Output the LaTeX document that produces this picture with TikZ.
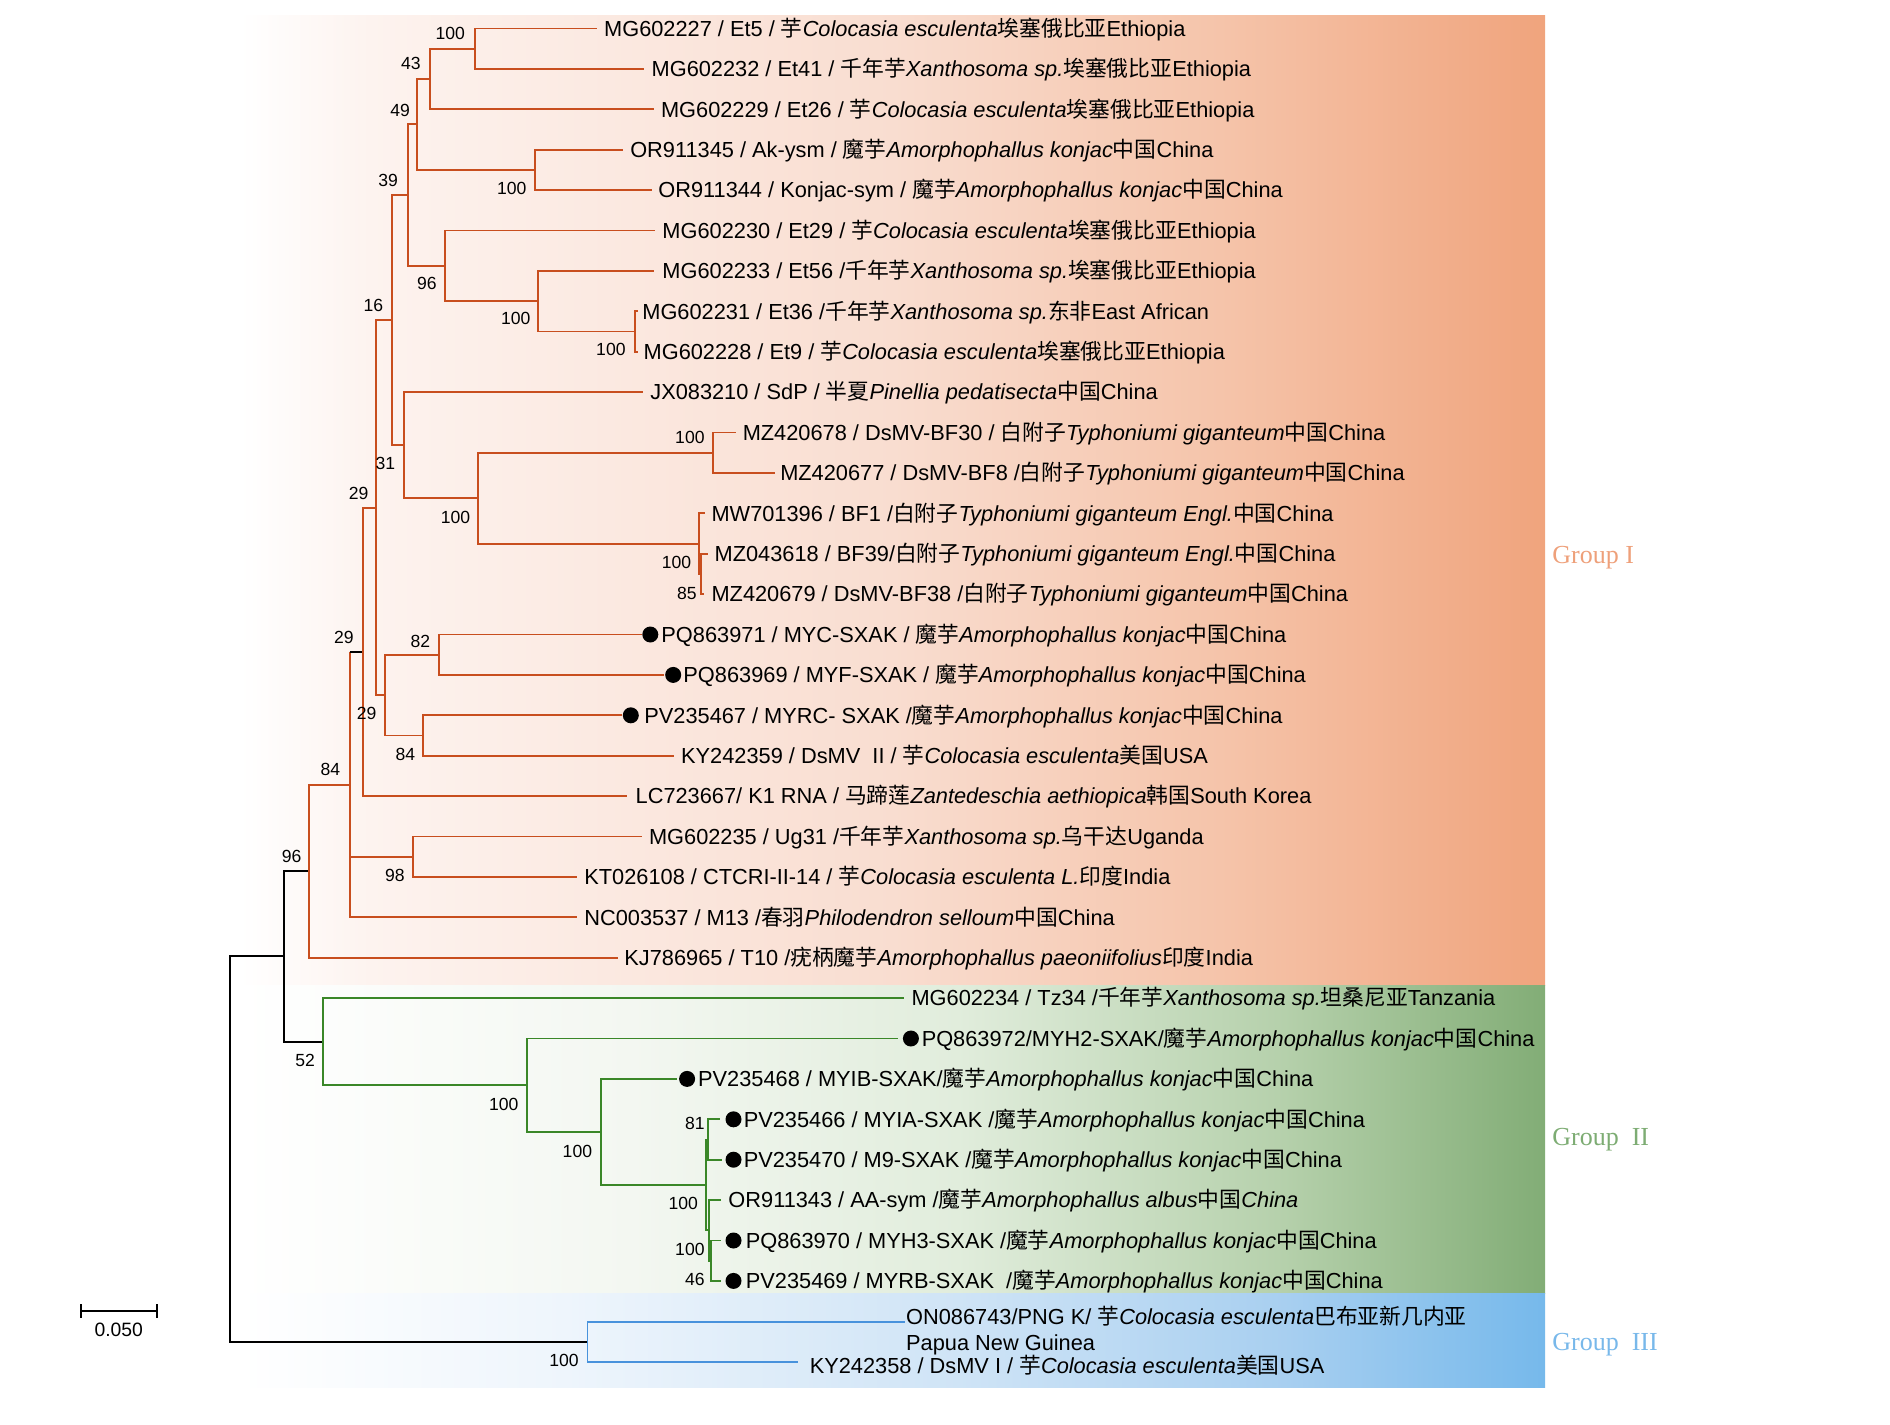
\documentclass[tikz,border=0pt]{standalone}
\usepackage{fontspec}
\setmainfont{Liberation Sans}
\newfontfamily\labf{Liberation Sans}
\newfontfamily\zhf{Noto Sans CJK SC}
\newfontfamily\grpf{Liberation Serif}
\newcommand{\zh}[1]{{\zhf #1}}
\definecolor{cI}{RGB}{200,78,30}
\definecolor{cII}{RGB}{58,135,40}
\definecolor{cIII}{RGB}{72,146,220}
\definecolor{gI}{RGB}{238,160,122}
\definecolor{gII}{RGB}{125,172,115}
\definecolor{gIII}{RGB}{120,184,234}
% path bbox maps onto 25bp..75bp of the shading
\pgfdeclarehorizontalshading{bandI}{100bp}{rgb(0bp)=(1,1,1); rgb(25bp)=(1,1,1); rgb(30bp)=(0.992,0.953,0.937); rgb(50bp)=(0.976,0.867,0.816); rgb(62.5bp)=(0.961,0.769,0.667); rgb(75bp)=(0.941,0.643,0.490); rgb(100bp)=(0.941,0.643,0.490)}
\pgfdeclarehorizontalshading{bandII}{100bp}{rgb(0bp)=(1,1,1); rgb(25bp)=(1,1,1); rgb(40bp)=(0.953,0.969,0.945); rgb(52.5bp)=(0.882,0.929,0.863); rgb(65bp)=(0.710,0.816,0.671); rgb(75bp)=(0.510,0.678,0.463); rgb(100bp)=(0.510,0.678,0.463)}
\pgfdeclarehorizontalshading{bandIII}{100bp}{rgb(0bp)=(1,1,1); rgb(25bp)=(1,1,1); rgb(37.5bp)=(0.933,0.961,0.988); rgb(52.5bp)=(0.812,0.894,0.965); rgb(65bp)=(0.659,0.812,0.941); rgb(75bp)=(0.463,0.725,0.922); rgb(100bp)=(0.463,0.725,0.922)}
\begin{document}
\begin{tikzpicture}[x=0.02cm,y=-0.02cm,
  brO/.style={draw=cI,line width=1.1pt},
  brG/.style={draw=cII,line width=1.1pt},
  brB/.style={draw=cIII,line width=1.1pt},
  brK/.style={draw=black,line width=1.2pt},
  lab/.style={anchor=base west,inner sep=0pt,font=\labf\fontsize{12.4}{14}\selectfont},
  bs/.style={anchor=east,inner sep=0pt,font=\labf\fontsize{10}{12}\selectfont},
  dot/.style={circle,fill=black,inner sep=0pt,minimum size=0.32cm},
  grp/.style={anchor=base west,inner sep=0pt,font=\grpf\fontsize{14.8}{16}\selectfont}]
\useasboundingbox (0,0) rectangle (1890,1424);
% bands
\shade[shading=bandI] (240,15) rectangle (1545,985);
\shade[shading=bandII] (240,985) rectangle (1545,1293);
\shade[shading=bandIII] (240,1293) rectangle (1545,1387);
% internal nodes
\coordinate (R0) at (230.4,1149.35);
\coordinate (W) at (284.0,956.4);
\coordinate (T) at (309.4,871.15);
\coordinate (S) at (349.6,784.6);
\coordinate (Q) at (363.0,651.85);
\coordinate (O) at (376.4,507.6);
\coordinate (I) at (391.9,320.1);
\coordinate (E) at (407.6,195.15);
\coordinate (C) at (417.4,124.45);
\coordinate (B) at (430.0,79.0);
\coordinate (A) at (474.6,48.7);
\coordinate (D) at (534.8,169.9);
\coordinate (F) at (444.7,265.85);
\coordinate (G) at (538.4,301.2);
\coordinate (H) at (635.3,331.5);
\coordinate (J) at (404.0,445.1);
\coordinate (K) at (478.2,498.15);
\coordinate (L) at (712.6,452.7);
\coordinate (M) at (699.2,543.6);
\coordinate (N) at (700.9,573.9);
\coordinate (P) at (385.2,695.1);
\coordinate (U) at (438.8,654.7);
\coordinate (V) at (423.3,735.5);
\coordinate (Rr) at (413.4,856.7);
\coordinate (X) at (322.8,1041.65);
\coordinate (Y) at (527.2,1085.2);
\coordinate (Z) at (600.9,1131.9);
\coordinate (AA) at (705.9,1184.95);
\coordinate (AB) at (708.0,1139.5);
\coordinate (AC) at (708.9,1230.4);
\coordinate (AD) at (711.2,1260.7);
\coordinate (BB) at (587.5,1342.3);
% leaf tips
\coordinate (t0) at (597.4,28.5);
\coordinate (t1) at (644.2,68.9);
\coordinate (t2) at (654.0,109.3);
\coordinate (t3) at (623.2,149.7);
\coordinate (t4) at (651.7,190.1);
\coordinate (t5) at (655.4,230.5);
\coordinate (t6) at (654.4,270.9);
\coordinate (t7) at (637.9,311.3);
\coordinate (t8) at (637.9,351.7);
\coordinate (t9) at (643.3,392.1);
\coordinate (t10) at (735.7,432.5);
\coordinate (t11) at (774.6,472.9);
\coordinate (t12) at (704.5,513.3);
\coordinate (t13) at (707.6,553.7);
\coordinate (t14) at (703.6,594.1);
\coordinate (t15) at (642.0,634.5);
\coordinate (t16) at (664.3,674.9);
\coordinate (t17) at (621.9,715.3);
\coordinate (t18) at (674.1,755.7);
\coordinate (t19) at (627.2,796.1);
\coordinate (t20) at (642.0,836.5);
\coordinate (t21) at (577.3,876.9);
\coordinate (t22) at (577.3,917.3);
\coordinate (t23) at (617.5,957.7);
\coordinate (t24) at (903.6,998.1);
\coordinate (t25) at (898.2,1038.5);
\coordinate (t26) at (676.8,1078.9);
\coordinate (t27) at (720.1,1119.3);
\coordinate (t28) at (722.3,1159.7);
\coordinate (t29) at (721.4,1200.1);
\coordinate (t30) at (721.4,1240.5);
\coordinate (t31) at (721.4,1280.9);
\coordinate (t32) at (904.9,1322.3);
\coordinate (t33) at (798.3,1362.3);
% branches: black
\draw[brK] (R0) |- (W);
\draw[brK] (R0) |- (BB);
\draw[brK] (W) |- (T);
\draw[brK] (W) |- (X);
% group I
\draw[brO] (T) |- (S);
\draw[brO] (T) |- (t23);
\draw[brO] (S) -- (S|-Q);
\draw[brK] (S|-Q) -- (Q);
\draw[brO] (S) |- (Rr);
\draw[brO] (S) |- (t22);
\draw[brO] (Q) |- (O);
\draw[brO] (Q) |- (t19);
\draw[brO] (O) |- (I);
\draw[brO] (O) |- (P);
\draw[brO] (I) |- (E);
\draw[brO] (I) |- (J);
\draw[brO] (E) |- (C);
\draw[brO] (E) |- (F);
\draw[brO] (C) |- (B);
\draw[brO] (C) |- (D);
\draw[brO] (B) |- (A);
\draw[brO] (B) |- (t2);
\draw[brO] (A) |- (t0);
\draw[brO] (A) |- (t1);
\draw[brO] (D) |- (t3);
\draw[brO] (D) |- (t4);
\draw[brO] (F) |- (t5);
\draw[brO] (F) |- (G);
\draw[brO] (G) |- (t6);
\draw[brO] (G) |- (H);
\draw[brO] (H) |- (t7);
\draw[brO] (H) |- (t8);
\draw[brO] (J) |- (t9);
\draw[brO] (J) |- (K);
\draw[brO] (K) |- (L);
\draw[brO] (K) |- (M);
\draw[brO] (L) |- (t10);
\draw[brO] (L) |- (t11);
\draw[brO] (M) |- (t12);
\draw[brO] (M) |- (N);
\draw[brO] (N) |- (t13);
\draw[brO] (N) |- (t14);
\draw[brO] (P) |- (U);
\draw[brO] (P) |- (V);
\draw[brO] (U) |- (t15);
\draw[brO] (U) |- (t16);
\draw[brO] (V) |- (t17);
\draw[brO] (V) |- (t18);
\draw[brO] (Rr) |- (t20);
\draw[brO] (Rr) |- (t21);
% group II
\draw[brG] (X) |- (t24);
\draw[brG] (X) |- (Y);
\draw[brG] (Y) |- (t25);
\draw[brG] (Y) |- (Z);
\draw[brG] (Z) |- (t26);
\draw[brG] (Z) |- (AA);
\draw[brG] (AA) |- (AB);
\draw[brG] (AA) |- (AC);
\draw[brG] (AB) |- (t27);
\draw[brG] (AB) |- (t28);
\draw[brG] (AC) |- (t29);
\draw[brG] (AC) |- (AD);
\draw[brG] (AD) |- (t30);
\draw[brG] (AD) |- (t31);
% group III
\draw[brB] (BB) |- (t32);
\draw[brB] (BB) |- (t33);
% dots
\node[dot] (d15) at (650.3,634.5) {};
\node[dot] (d16) at (673.2,674.9) {};
\node[dot] (d17) at (630.8,715.3) {};
\node[dot] (d25) at (910.9,1038.5) {};
\node[dot] (d26) at (687.1,1078.9) {};
\node[dot] (d27) at (733.5,1119.3) {};
\node[dot] (d28) at (733.5,1159.7) {};
\node[dot] (d30) at (733.5,1240.5) {};
\node[dot] (d31) at (733.5,1280.9) {};
% leaf labels
\node[lab] (l0) at (603.8,36.3) {MG602227 / Et5 / \zh{芋}\textit{Colocasia esculenta}\zh{埃塞俄比亚}Ethiopia};
\node[lab] (l1) at (651.3,76.7) {MG602232 / Et41 / \zh{千年芋}\textit{Xanthosoma sp.}\zh{埃塞俄比亚}Ethiopia};
\node[lab] (l2) at (660.7,117.1) {MG602229 / Et26 / \zh{芋}\textit{Colocasia esculenta}\zh{埃塞俄比亚}Ethiopia};
\node[lab] (l3) at (629.9,157.5) {OR911345 / Ak-ysm / \zh{魔芋}\textit{Amorphophallus konjac}\zh{中国}China};
\node[lab] (l4) at (658.0,197.9) {OR911344 / Konjac-sym / \zh{魔芋}\textit{Amorphophallus konjac}\zh{中国}China};
\node[lab] (l5) at (662.1,238.3) {MG602230 / Et29 / \zh{芋}\textit{Colocasia esculenta}\zh{埃塞俄比亚}Ethiopia};
\node[lab] (l6) at (662.1,278.7) {MG602233 / Et56 /\zh{千年芋}\textit{Xanthosoma sp.}\zh{埃塞俄比亚}Ethiopia};
\node[lab] (l7) at (642.0,319.1) {MG602231 / Et36 /\zh{千年芋}\textit{Xanthosoma sp.}\zh{东非}East African};
\node[lab] (l8) at (643.3,359.5) {MG602228 / Et9 / \zh{芋}\textit{Colocasia esculenta}\zh{埃塞俄比亚}Ethiopia};
\node[lab] (l9) at (650.0,399.9) {JX083210 / SdP / \zh{半夏}\textit{Pinellia pedatisecta}\zh{中国}China};
\node[lab] (l10) at (742.4,440.3) {MZ420678 / DsMV-BF30 / \zh{白附子}\textit{Typhoniumi giganteum}\zh{中国}China};
\node[lab] (l11) at (779.9,480.7) {MZ420677 / DsMV-BF8 /\zh{白附子}\textit{Typhoniumi giganteum}\zh{中国}China};
\node[lab] (l12) at (711.2,521.1) {MW701396 / BF1 /\zh{白附子}\textit{Typhoniumi giganteum Engl.}\zh{中国}China};
\node[lab] (l13) at (714.3,561.5) {MZ043618 / BF39/\zh{白附子}\textit{Typhoniumi giganteum Engl.}\zh{中国}China};
\node[lab] (l14) at (711.2,601.9) {MZ420679 / DsMV-BF38 /\zh{白附子}\textit{Typhoniumi giganteum}\zh{中国}China};
\node[lab] (l15) at (661.1,642.3) {PQ863971 / MYC-SXAK / \zh{魔芋}\textit{Amorphophallus konjac}\zh{中国}China};
\node[lab] (l16) at (683.1,682.7) {PQ863969 / MYF-SXAK / \zh{魔芋}\textit{Amorphophallus konjac}\zh{中国}China};
\node[lab] (l17) at (644.0,723.1) {PV235467 / MYRC- SXAK /\zh{魔芋}\textit{Amorphophallus konjac}\zh{中国}China};
\node[lab] (l18) at (680.8,763.5) {KY242359 / DsMV\ \ II / \zh{芋}\textit{Colocasia esculenta}\zh{美国}USA};
\node[lab] (l19) at (635.3,803.9) {LC723667/ K1 RNA / \zh{马蹄莲}\textit{Zantedeschia aethiopica}\zh{韩国}South Korea};
\node[lab] (l20) at (648.7,844.3) {MG602235 / Ug31 /\zh{千年芋}\textit{Xanthosoma sp.}\zh{乌干达}Uganda};
\node[lab] (l21) at (584.0,884.7) {KT026108 / CTCRI-II-14 / \zh{芋}\textit{Colocasia esculenta L.}\zh{印度}India};
\node[lab] (l22) at (584.0,925.1) {NC003537 / M13 /\zh{春羽}\textit{Philodendron selloum}\zh{中国}China};
\node[lab] (l23) at (624.1,965.5) {KJ786965 / T10 /\zh{疣柄魔芋}\textit{Amorphophallus paeoniifolius}\zh{印度}India};
\node[lab] (l24) at (911.2,1005.9) {MG602234 / Tz34 /\zh{千年芋}\textit{Xanthosoma sp.}\zh{坦桑尼亚}Tanzania};
\node[lab] (l25) at (921.4,1046.3) {PQ863972/MYH2-SXAK/\zh{魔芋}\textit{Amorphophallus konjac}\zh{中国}China};
\node[lab] (l26) at (697.8,1086.7) {PV235468 / MYIB-SXAK/\zh{魔芋}\textit{Amorphophallus konjac}\zh{中国}China};
\node[lab] (l27) at (743.4,1127.1) {PV235466 / MYIA-SXAK /\zh{魔芋}\textit{Amorphophallus konjac}\zh{中国}China};
\node[lab] (l28) at (743.4,1167.5) {PV235470 / M9-SXAK /\zh{魔芋}\textit{Amorphophallus konjac}\zh{中国}China};
\node[lab] (l29) at (728.1,1207.9) {OR911343 / AA-sym /\zh{魔芋}\textit{Amorphophallus albus}\zh{中国}\textit{China}};
\node[lab] (l30) at (745.5,1248.3) {PQ863970 / MYH3-SXAK /\zh{魔芋}\textit{Amorphophallus konjac}\zh{中国}China};
\node[lab] (l31) at (745.5,1288.7) {PV235469 / MYRB-SXAK\ \ /\zh{魔芋}\textit{Amorphophallus konjac}\zh{中国}China};
\node[lab] (l32) at (905.8,1324) {ON086743/PNG K/ \zh{芋}\textit{Colocasia esculenta}\zh{巴布亚新几内亚}};
\node[lab] (l32b) at (905.8,1350) {Papua New Guinea};
\node[lab] (l33) at (809.4,1373) {KY242358 / DsMV I / \zh{芋}\textit{Colocasia esculenta}\zh{美国}USA};
% bootstrap values
\node[bs] (b1) at (465.2,33) {100};
\node[bs] (b2) at (421.0,63) {43};
\node[bs] (b3) at (410.3,110) {49};
\node[bs] (b4) at (526.8,188) {100};
\node[bs] (b5) at (398.2,180) {39};
\node[bs] (b6) at (437.1,283) {96};
\node[bs] (b7) at (530.8,318) {100};
\node[bs] (b8) at (625.9,349) {100};
\node[bs] (b9) at (383.5,305) {16};
\node[bs] (b10) at (395.5,463) {31};
\node[bs] (b11) at (470.5,517) {100};
\node[bs] (b12) at (704.9,437) {100};
\node[bs] (b13) at (691.5,562) {100};
\node[bs] (b14) at (696.9,593) {85};
\node[bs] (b15) at (368.8,493) {29};
\node[bs] (b16) at (354.0,637) {29};
\node[bs] (b17) at (376.8,713) {29};
\node[bs] (b18) at (430.4,641) {82};
\node[bs] (b19) at (415.6,754) {84};
\node[bs] (b20) at (340.6,769) {84};
\node[bs] (b21) at (404.9,875) {98};
\node[bs] (b22) at (301.8,856) {96};
\node[bs] (b23) at (315.2,1060) {52};
\node[bs] (b24) at (518.8,1104) {100};
\node[bs] (b25) at (592.4,1151) {100};
\node[bs] (b26) at (704.9,1123) {81};
\node[bs] (b27) at (698.2,1203) {100};
\node[bs] (b28) at (704.9,1249) {100};
\node[bs] (b29) at (704.9,1279) {46};
\node[bs] (b30) at (579.0,1360) {100};
% group labels
\node[grp,text=gI] (gr1) at (1552,563) {Group I};
\node[grp,text=gII] (gr2) at (1552,1145) {Group\ \ II};
\node[grp,text=gIII] (gr3) at (1552,1350) {Group\ \ III};
% scale bar
\coordinate (sb1) at (80.7,1311);
\coordinate (sb2) at (156.7,1311);
\draw[line width=1.1pt] (sb1) -- (sb2);
\draw[line width=1.1pt] ([yshift=0.14cm]sb1) -- ([yshift=-0.14cm]sb1);
\draw[line width=1.1pt] ([yshift=0.14cm]sb2) -- ([yshift=-0.14cm]sb2);
\node[inner sep=0pt,font=\fontsize{11}{13}\selectfont] (sbl) at (118.8,1330) {0.050};
\end{tikzpicture}
\end{document}
